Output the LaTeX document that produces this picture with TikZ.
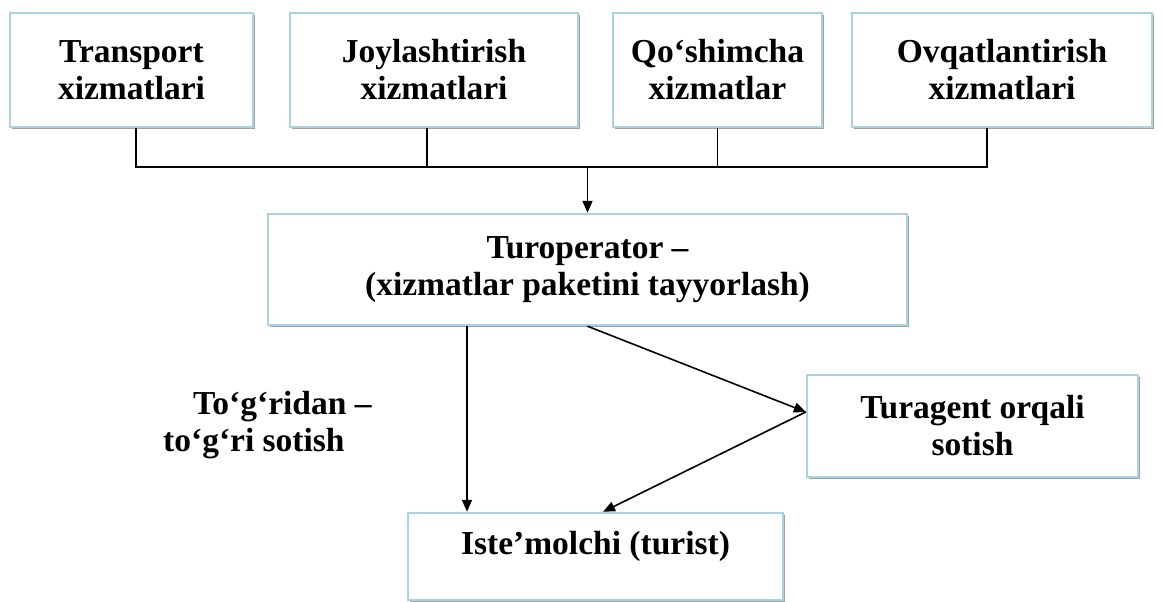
\documentclass[tikz,border=0pt]{standalone}
\usepackage{fontspec}
\setmainfont{Liberation Serif}
\usetikzlibrary{positioning,arrows.meta,shadows}

\definecolor{boxblue}{HTML}{A9D3E0}
\definecolor{boxshade}{HTML}{A0A4A8}

\begin{document}
\begin{tikzpicture}[
    x=1pt, y=-1pt,
    box/.style={draw=boxblue, line width=2.4pt, fill=white, align=center,
      drop shadow={shadow xshift=2pt, shadow yshift=-2pt, fill=boxshade, opacity=1},
      font=\fontsize{33.5}{37}\selectfont\bfseries, inner sep=0pt},
    link/.style={draw, line width=1.6pt},
    lbl/.style={align=left, inner sep=0pt, font=\fontsize{33.5}{37}\selectfont\bfseries},
    >={Triangle[length=12pt,width=10pt]}
]
\useasboundingbox (0,0) rectangle (1162,602);

% services
\node[box, minimum width=243pt, minimum height=114pt] (trans) at (131.5,70) {Transport\\xizmatlari};
\node[box, minimum width=288pt, minimum height=114pt] (joy) at (434,70) {Joylashtirish\\xizmatlari};
\node[box, minimum width=209pt, minimum height=114pt] (qosh) at (717.5,70) {Qo‘shimcha\\xizmatlar};
\node[box, minimum width=300pt, minimum height=114pt] (ovq) at (1002,70) {Ovqatlantirish\\xizmatlari};

% operator, agent, consumer
\node[box, minimum width=639pt, minimum height=111pt] (oper) at (587.5,269.5) {Turoperator --\\(xizmatlar paketini tayyorlash)};
\node[box, minimum width=331pt, minimum height=102pt] (agent) at (972.5,426) {Turagent orqali\\sotish};
\node[box, minimum width=375pt, minimum height=87pt] (cons) at (595.5,556.5) {Iste’molchi (turist)\\[-10pt]~};

\node[lbl, anchor=west] (direct) at (163,425) {\hspace*{30pt}To‘g‘ridan --\\to‘g‘ri sotish};

% bus line
\coordinate (bus) at (0,167);
\draw[link] ([xshift=4.5pt]trans.south) -- ([xshift=4.5pt]trans.south |- bus)
  -- ([xshift=-15pt]ovq.south |- bus) -- ([xshift=-15pt]ovq.south);
\draw[link] ([xshift=-7pt]joy.south) -- ([xshift=-7pt]joy.south |- bus);
\draw[link] (qosh.south) -- (qosh.south |- bus);
\draw[link, ->] (oper.north |- bus) -- (oper.north);

% sales
\draw[link, ->] ([xshift=-120.5pt]oper.south) -- ([xshift=-120.5pt]oper.south |- cons.north);
\draw[link, ->] (oper.south) -- ([yshift=14pt]agent.west);
\draw[link, ->] ([yshift=14pt]agent.west) -- ([xshift=7.5pt]cons.north);

\end{tikzpicture}
\end{document}
